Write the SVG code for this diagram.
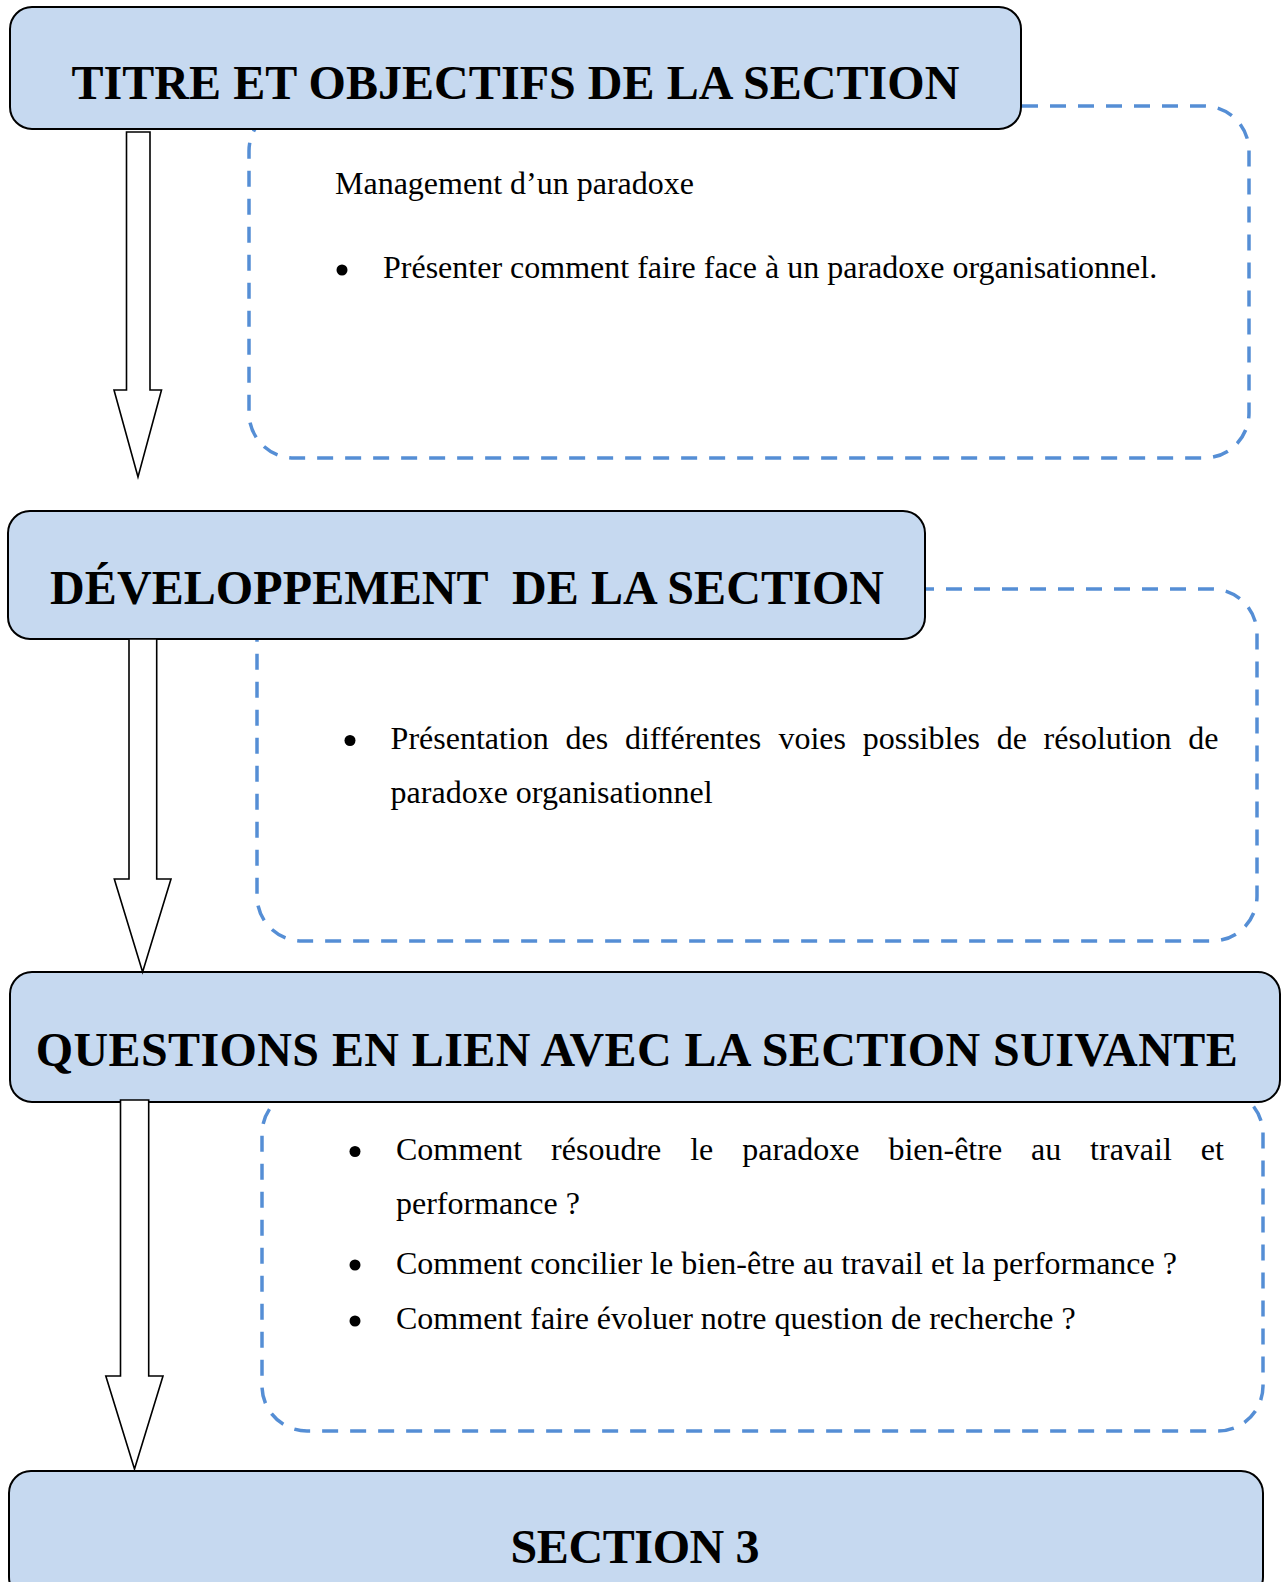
<svg xmlns="http://www.w3.org/2000/svg" width="1288" height="1582" viewBox="0 0 1288 1582">
<style>
.box{fill:#c6d9f0;stroke:#000;stroke-width:2}
.dash{fill:none;stroke:#558ed5;stroke-width:3.5;stroke-dasharray:16 12}
.title{font-family:"Liberation Serif","Times New Roman",serif;font-weight:bold;font-size:48px;fill:#000}
.body{font-family:"Liberation Serif","Times New Roman",serif;font-size:32px;fill:#000}
.arrow{fill:#fff;stroke:#000;stroke-width:1.6;stroke-linejoin:miter}
.bullet{fill:#000}
</style>
<rect width="1288" height="1582" fill="#fff"/>

<g id="detail1">
<rect class="dash" x="249" y="106" width="1000" height="352" rx="45"/>
<text class="body" x="335" y="194">Management d’un paradoxe</text>
<circle class="bullet" cx="342" cy="270" r="5.5"/>
<text class="body" x="383" y="278">Présenter comment faire face à un paradoxe organisationnel.</text>
</g>

<g id="detail2">
<rect class="dash" x="257" y="589" width="1000" height="352" rx="45"/>
<circle class="bullet" cx="350" cy="740.5" r="5.5"/>
<text class="body" y="749"><tspan x="390.6">Présentation</tspan><tspan x="565.5">des</tspan><tspan x="624.9">différentes</tspan><tspan x="778.4">voies</tspan><tspan x="862.7">possibles</tspan><tspan x="996.7">de</tspan><tspan x="1043.6">résolution</tspan><tspan x="1188.3">de</tspan></text>
<text class="body" x="390.6" y="803">paradoxe organisationnel</text>
</g>

<g id="detail3">
<rect class="dash" x="262" y="1089" width="1001" height="342" rx="45"/>
<circle class="bullet" cx="355" cy="1151.5" r="5.5"/>
<text class="body" y="1160"><tspan x="396">Comment</tspan><tspan x="551.1">résoudre</tspan><tspan x="690.2">le</tspan><tspan x="742.2">paradoxe</tspan><tspan x="888.4">bien-être</tspan><tspan x="1031">au</tspan><tspan x="1090.1">travail</tspan><tspan x="1200.8">et</tspan></text>
<text class="body" x="396" y="1214">performance ?</text>
<circle class="bullet" cx="355" cy="1265" r="5.5"/>
<text class="body" x="396" y="1273.5">Comment concilier le bien-être au travail et la performance ?</text>
<circle class="bullet" cx="355" cy="1321" r="5.5"/>
<text class="body" x="396" y="1329">Comment faire évoluer notre question de recherche ?</text>
</g>

<g id="node1">
<rect class="box" x="10" y="7" width="1011" height="122" rx="22"/>
<text class="title" x="71.4" y="99.3" textLength="888" lengthAdjust="spacing">TITRE ET OBJECTIFS DE LA SECTION</text>
</g>

<g id="node2">
<rect class="box" x="8" y="511" width="917" height="128" rx="22"/>
<text class="title" x="50" y="604.3" xml:space="preserve" textLength="834" lengthAdjust="spacing">DÉVELOPPEMENT  DE LA SECTION</text>
</g>

<g id="node3">
<rect class="box" x="10" y="972" width="1270" height="130" rx="22"/>
<text class="title" x="35.7" y="1066" textLength="1202" lengthAdjust="spacing">QUESTIONS EN LIEN AVEC LA SECTION SUIVANTE</text>
</g>

<g id="node4">
<rect class="box" x="9" y="1471" width="1254" height="128" rx="22"/>
<text class="title" x="510.5" y="1563" textLength="249" lengthAdjust="spacing">SECTION 3</text>
</g>

<g id="connectors">
<polygon class="arrow" points="126.5,132 150,132 150,390 161.5,390 138,477 114,390 126.5,390"/>
<polygon class="arrow" points="129,639 156.7,639 156.7,879 171,879 142.6,972 114.3,879 129,879"/>
<polygon class="arrow" points="120.5,1100 148.7,1100 148.7,1376 163,1376 134.5,1469 105.8,1376 120.5,1376"/>
</g>
</svg>
